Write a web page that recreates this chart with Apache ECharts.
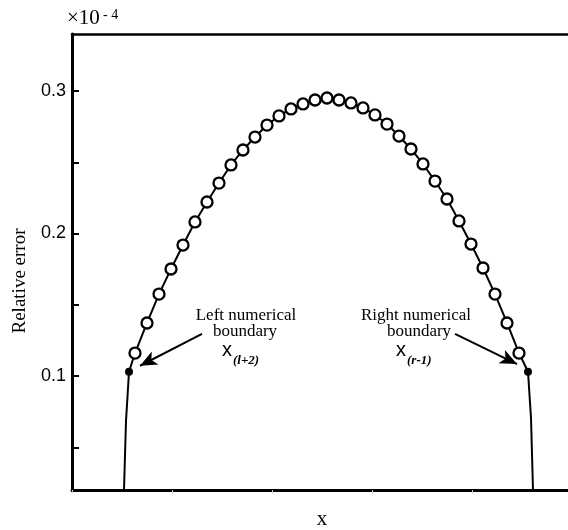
<!DOCTYPE html>
<html>
<head>
<meta charset="utf-8">
<script src="https://cdn.jsdelivr.net/npm/echarts@6/dist/echarts.min.js"></script>
<style>
  html, body { margin: 0; padding: 0; background: #fff; }
  #chart { width: 568px; height: 530px; }
</style>
</head>
<body>
<div id="chart"></div>
<script>
// Grid nodes (open circles) and their relative error, in units of 1e-4
const nodeX = [0.63, 0.75, 0.87, 0.99, 1.11, 1.23, 1.35, 1.47, 1.59, 1.71, 1.83,
  1.95, 2.07, 2.19, 2.31, 2.43, 2.55, 2.67, 2.79, 2.91, 3.03, 3.15, 3.27, 3.39,
  3.51, 3.63, 3.75, 3.87, 3.99, 4.11, 4.23, 4.35, 4.47];
const nodeErr = [0.1161, 0.1372, 0.1575, 0.1751, 0.1919, 0.2081, 0.2221, 0.2354,
  0.2481, 0.2586, 0.2677, 0.2761, 0.2825, 0.2874, 0.2909, 0.2937, 0.2951, 0.2937,
  0.2916, 0.2881, 0.2832, 0.2768, 0.2684, 0.2593, 0.2488, 0.2368, 0.2242, 0.2088,
  0.1926, 0.1758, 0.1575, 0.1372, 0.1161];

// Numerical boundary points x(l+2) and x(r-1)
const boundaryX = [0.57, 4.56];
const boundaryErr = [0.103, 0.103];

// Error curve outside the boundary points, dropping to the axis
const leftTailX = [0.52, 0.54];
const leftTailErr = [0.02, 0.0684];
const rightTailX = [4.59, 4.61];
const rightTailErr = [0.0705, 0.02];

// Axis ticks and labels
const yTickValues = [0.05, 0.1, 0.15, 0.2, 0.25, 0.3];
const yLabelValues = [0.1, 0.2, 0.3];

const pairs = (xs, ys) => xs.map((x, i) => [x, ys[i]]);

const curve = [].concat(
  pairs(leftTailX, leftTailErr),
  [[boundaryX[0], boundaryErr[0]]],
  pairs(nodeX, nodeErr),
  [[boundaryX[1], boundaryErr[1]]],
  pairs(rightTailX, rightTailErr)
);

const serif = '"Liberation Serif", "Times New Roman", serif';
const sans = '"Liberation Sans", Arial, sans-serif';

const chart = echarts.init(document.getElementById('chart'));

chart.setOption({
  backgroundColor: '#fff',
  animation: false,
  grid: { left: 72, top: 34, width: 500, height: 456, show: false, outerBoundsMode: 'none', containLabel: false },
  xAxis: [{
    type: 'value', min: 0, max: 5, interval: 1,
    name: 'x', nameLocation: 'middle', nameGap: 19,
    nameTextStyle: { fontFamily: serif, fontSize: 21, color: '#000' },
    axisLine: { show: true, lineStyle: { color: '#000', width: 3 } },
    axisTick: { show: true, inside: false, length: 3, lineStyle: { color: '#c8c8c8', width: 1 } },
    axisLabel: { show: false },
    splitLine: { show: false }
  }, {
    type: 'value', min: 0, max: 5, position: 'top',
    axisLine: { show: true, onZero: false, lineStyle: { color: '#000', width: 2.5 } },
    axisTick: { show: false }, axisLabel: { show: false }, splitLine: { show: false }
  }],
  yAxis: {
    type: 'value', min: 0.02, max: 0.34,
    axisLine: { show: true, lineStyle: { color: '#000', width: 3 } },
    axisTick: { show: true, inside: true, length: 7, customValues: yTickValues,
      lineStyle: { color: '#000', width: 2 } },
    axisLabel: { show: true, customValues: yLabelValues, margin: 6,
      fontFamily: sans, fontSize: 18, color: '#000',
      formatter: v => v.toFixed(1) },
    splitLine: { show: false }
  },
  series: [{
    type: 'line',
    data: curve,
    showSymbol: false,
    lineStyle: { color: '#000', width: 2 },
    z: 2,
    markLine: {
      silent: true,
      symbol: ['none', 'arrow'],
      symbolSize: [11, 17],
      label: { show: false },
      lineStyle: { color: '#000', width: 2, type: 'solid' },
      data: [
        [{ coord: [1.30, 0.1295] }, { coord: [0.68, 0.1072] }],
        [{ coord: [3.83, 0.1295] }, { coord: [4.45, 0.1084] }]
      ]
    }
  }, {
    type: 'scatter',
    data: pairs(nodeX, nodeErr),
    symbol: 'circle',
    symbolSize: 11,
    itemStyle: { color: '#fff', borderColor: '#000', borderWidth: 2.3, opacity: 1 },
    z: 3
  }, {
    type: 'scatter',
    data: pairs(boundaryX, boundaryErr),
    symbol: 'circle',
    symbolSize: 8,
    itemStyle: { color: '#000', opacity: 1 },
    z: 3
  }],
  graphic: [
    // ×10^-4 multiplier
    { type: 'text', left: 67, top: 8, style: { text: '×10', font: '21px ' + serif, fill: '#000' } },
    { type: 'text', left: 103, top: 8, style: { text: '- 4', font: '14px ' + serif, fill: '#000' } },
    // y axis title
    { type: 'text', x: 20, y: 281, rotation: Math.PI / 2,
      style: { text: 'Relative error', font: '19px ' + serif, fill: '#000', align: 'center', verticalAlign: 'middle' } },
    // left boundary annotation
    { type: 'text', x: 246, y: 316, style: { text: 'Left numerical', font: '17px ' + serif, fill: '#000', align: 'center', verticalAlign: 'middle' } },
    { type: 'text', x: 245, y: 332, style: { text: 'boundary', font: '17px ' + serif, fill: '#000', align: 'center', verticalAlign: 'middle' } },
    { type: 'text', x: 222, y: 350, style: { text: 'x', font: '20px ' + sans, fill: '#000', align: 'left', verticalAlign: 'middle' } },
    { type: 'text', x: 233, y: 361, style: { text: '(l+2)', font: 'italic bold 13px ' + serif, fill: '#000', align: 'left', verticalAlign: 'middle' } },
    // right boundary annotation
    { type: 'text', x: 416, y: 316, style: { text: 'Right numerical', font: '17px ' + serif, fill: '#000', align: 'center', verticalAlign: 'middle' } },
    { type: 'text', x: 419, y: 332, style: { text: 'boundary', font: '17px ' + serif, fill: '#000', align: 'center', verticalAlign: 'middle' } },
    { type: 'text', x: 396, y: 350, style: { text: 'x', font: '20px ' + sans, fill: '#000', align: 'left', verticalAlign: 'middle' } },
    { type: 'text', x: 407, y: 361, style: { text: '(r-1)', font: 'italic bold 13px ' + serif, fill: '#000', align: 'left', verticalAlign: 'middle' } }
  ]
});
</script>
</body>
</html>
